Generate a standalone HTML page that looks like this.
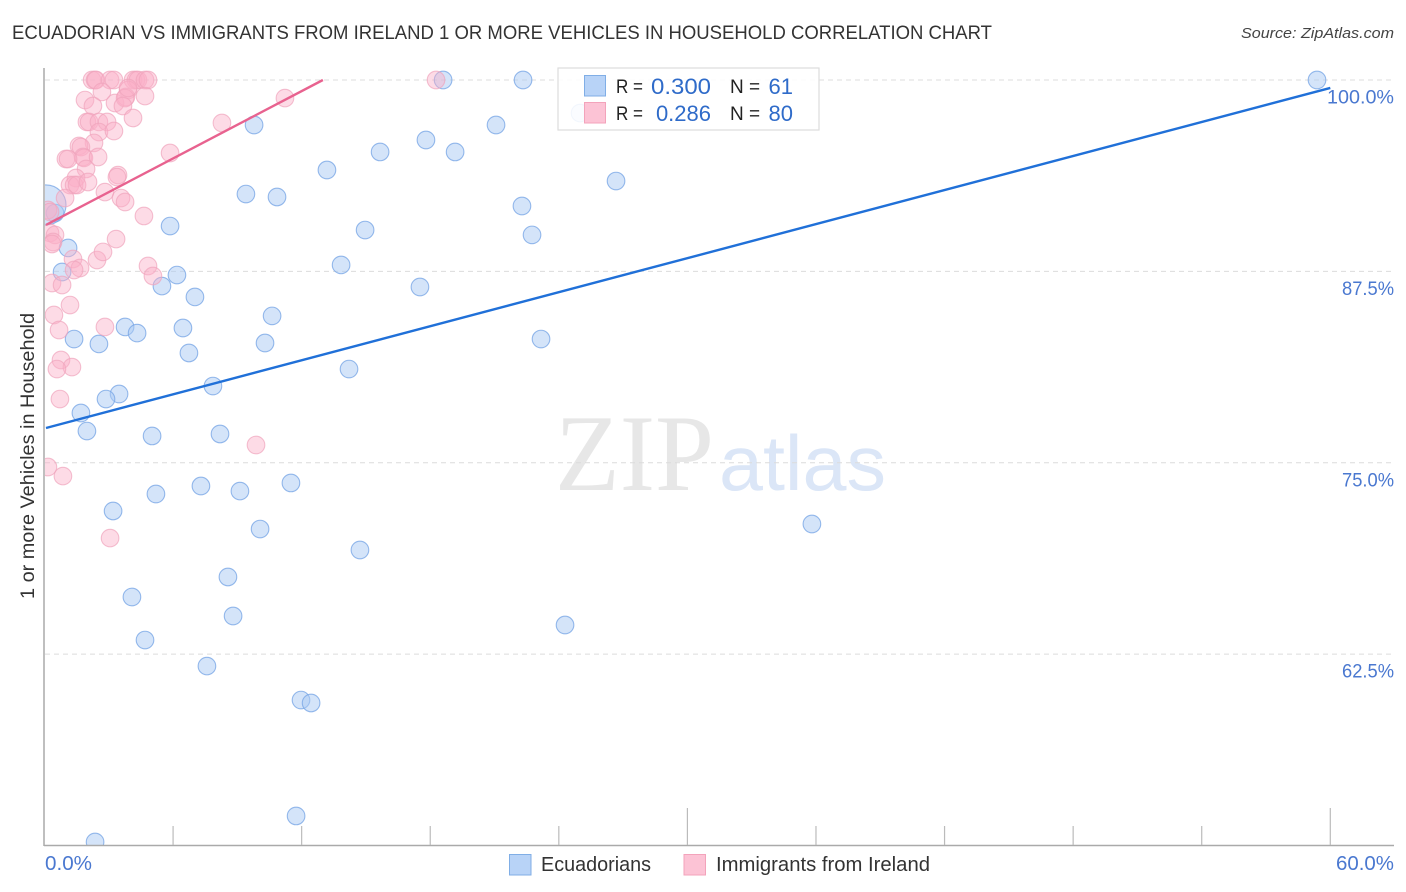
<!DOCTYPE html>
<html lang="en">
<head>
<meta charset="utf-8">
<title>Ecuadorian vs Immigrants from Ireland correlation chart</title>
<style>
html,body{margin:0;padding:0;background:#fff;width:1406px;height:892px;overflow:hidden}
svg{display:block;font-family:"Liberation Sans",sans-serif}
</style>
</head>
<body>
<svg id="chart" xmlns="http://www.w3.org/2000/svg" width="1406" height="892" viewBox="0 0 1406 892">
  <defs>
    <clipPath id="plot-clip"><rect x="45" y="68" width="1349" height="777"></rect></clipPath>
  </defs>
  <rect x="0" y="0" width="1406" height="892" fill="#fff"></rect>
  <text x="12" y="39" font-size="19" fill="#333" textLength="980" lengthAdjust="spacingAndGlyphs">ECUADORIAN VS IMMIGRANTS FROM IRELAND 1 OR MORE VEHICLES IN HOUSEHOLD CORRELATION CHART</text>
  <text x="1241" y="38" font-size="15" font-style="italic" fill="#444" textLength="153" lengthAdjust="spacingAndGlyphs">Source: ZipAtlas.com</text>
  <g>
    <text x="555" y="490" font-family="'Liberation Serif',serif" font-size="109" fill="#e7e7e7" textLength="159" lengthAdjust="spacingAndGlyphs">ZIP</text>
    <text x="719" y="490" font-size="78" fill="#dbe6f7" textLength="167" lengthAdjust="spacingAndGlyphs">atlas</text>
  </g>
  <g id="grid"></g>
  <g id="marks" clip-path="url(#plot-clip)"></g>
  <g id="axes"></g>
  <text transform="translate(34,456) rotate(-90)" font-size="19" fill="#333" text-anchor="middle" textLength="286" lengthAdjust="spacingAndGlyphs">1 or more Vehicles in Household</text>

  <g>
    <rect x="558" y="68" width="261" height="62" fill="#fff" fill-opacity="0.88" stroke="#ddd" stroke-width="1.2"></rect>
    <rect x="584.5" y="75.5" width="21" height="20.5" fill="#b8d3f7" stroke="#80aee6" stroke-width="1"></rect>
    <rect x="584.5" y="102.5" width="21" height="20.5" fill="#fcc3d5" stroke="#f3a3bb" stroke-width="1"></rect>
    <g font-size="19" fill="#222">
      <text x="616" y="93" textLength="27" lengthAdjust="spacingAndGlyphs">R =</text>
      <text x="730" y="93">N =</text>
      <text x="616" y="120" textLength="27" lengthAdjust="spacingAndGlyphs">R =</text>
      <text x="730" y="120">N =</text>
    </g>
    <g font-size="22" fill="#2f6bc9">
      <text x="651" y="94" textLength="60" lengthAdjust="spacingAndGlyphs">0.300</text>
      <text x="793" y="94" text-anchor="end">61</text>
      <text x="711" y="121" text-anchor="end">0.286</text>
      <text x="793" y="121" text-anchor="end">80</text>
    </g>
  </g>

  <g>
    <rect x="509.5" y="854.5" width="21.5" height="20.5" fill="#b8d3f7" stroke="#80aee6" stroke-width="1"></rect>
    <text x="541" y="871" font-size="20" fill="#333" textLength="110" lengthAdjust="spacingAndGlyphs">Ecuadorians</text>
    <rect x="684" y="854.5" width="21.5" height="20.5" fill="#fcc3d5" stroke="#f3a3bb" stroke-width="1"></rect>
    <text x="716" y="871" font-size="20" fill="#333" textLength="214" lengthAdjust="spacingAndGlyphs">Immigrants from Ireland</text>
  </g>
</svg>
<script>
const yTickValues = [100, 87.5, 75, 62.5];
const yTickLabels = ["100.0%", "87.5%", "75.0%", "62.5%"];
const xTickValues = [0, 6, 12, 18, 24, 30, 36, 42, 48, 54, 60];
const xEndLabels = ["0.0%", "60.0%"];

const ecuadoriansX = [59.38,18.60,22.33,24.99,9.78,21.07,17.80,13.18,15.66,19.16,26.67,9.40,10.85,22.28,5.86,14.96,22.75,1.10,13.84,0.82,6.18,5.48,17.52,7.02,10.62,3.76,6.46,4.32,1.38,2.54,10.29,23.17,6.74,14.21,7.86,3.48,2.87,1.70,1.98,5.02,8.19,5.20,7.30,9.12,11.50,3.20,10.06,14.72,35.81,8.56,4.08,8.80,24.29,4.69,7.58,11.97,12.44,11.74,2.36,0.49,0.07];
const ecuadoriansY = [100,100,100,97.84,97.06,97.06,96.08,94.12,95.30,95.30,93.40,92.55,92.36,91.77,90.46,90.20,89.88,89.03,87.92,87.46,87.26,86.54,86.48,85.83,84.59,83.87,83.80,83.47,83.08,82.76,82.82,83.08,82.17,81.12,80.01,79.49,79.16,78.25,77.07,76.75,76.88,72.96,73.48,73.15,73.68,71.85,70.67,69.30,71.00,67.54,66.23,64.99,64.40,63.42,61.72,59.50,59.31,51.93,50.23,91.31,91.84];

const irelandX = [2.22,2.36,2.40,3.06,3.24,4.13,4.27,4.36,4.69,4.83,18.27,2.68,3.90,1.89,2.26,3.29,3.80,3.76,3.66,4.69,4.13,1.98,2.08,2.54,2.92,2.54,3.24,2.31,1.61,1.70,1.80,1.84,1.00,1.10,2.50,1.94,3.43,3.38,1.47,1.19,1.38,1.52,2.03,0.96,2.82,3.57,3.76,4.64,5.86,8.28,11.22,0.16,0.26,0.26,0.49,0.40,0.35,1.33,1.66,1.38,2.45,2.73,3.34,4.83,5.06,0.35,0.82,1.19,0.44,0.68,2.82,0.77,1.28,0.58,0.72,0.16,0.86,9.87,3.06,3.90];
const irelandY = [100,100,100,100,100,100,100,100,100,100,100,99.22,99.35,98.69,98.30,98.50,98.89,98.82,98.30,98.95,97.52,97.26,97.26,97.26,97.26,96.60,96.67,95.89,95.69,95.62,94.97,94.91,94.84,94.84,94.97,94.19,93.79,93.66,93.60,93.14,93.14,93.14,93.34,92.29,92.68,92.29,92.03,91.12,95.23,97.19,98.82,91.51,91.38,90.01,89.88,89.42,89.29,88.31,87.72,87.59,88.24,88.77,89.61,87.85,87.20,86.74,86.61,85.30,84.65,83.67,83.87,81.71,81.25,81.12,79.16,74.72,74.13,76.16,70.08,99.48];

const ecuadoriansTrendX = [0.07, 60];
const ecuadoriansTrendY = [77.27, 99.48];
const irelandTrendX = [0.07, 12.99];
const irelandTrendY = [90.53, 100];

const NS = 'http://www.w3.org/2000/svg';
function xScale(v) { return 44.5 + v * 21.43; }
function yScale(v) { return 80 + (100 - v) * 15.31; }

function make(tag, attrs, parent) {
  const el = document.createElementNS(NS, tag);
  for (const k in attrs) el.setAttribute(k, attrs[k]);
  parent.appendChild(el);
  return el;
}

const grid = document.getElementById('grid');
const axes = document.getElementById('axes');
const marks = document.getElementById('marks');

yTickValues.forEach(function (v, i) {
  const line = make('line', {x1: 45, x2: 1394, y1: yScale(v), y2: yScale(v), stroke: '#dcdcdc', 'stroke-width': 1, 'stroke-dasharray': '5 4'}, grid);
  
  
  const label = make('text', {x: 1394, y: yScale(v) + 23.5, 'font-size': 19, fill: '#4a78d0', 'text-anchor': 'end', textLength: yTickLabels[i].length > 5 ? 67 : 52, lengthAdjust: 'spacingAndGlyphs'}, axes);
  
  
  label.textContent = yTickLabels[i];
});

const yAxis = make('line', {x1: 44, x2: 44, y1: 68, y2: 846, stroke: '#aaa', 'stroke-width': 1.5}, axes);


const xAxis = make('line', {x1: 44, x2: 1394, y1: 845.5, y2: 845.5, stroke: '#aaa', 'stroke-width': 1.5}, axes);



xTickValues.forEach(function (v, i) {
  if (i === 0) return;
  const tall = i % 5 === 0;
  const tick = make('line', {x1: xScale(v), x2: xScale(v), y1: tall ? 808 : 826, y2: 845, stroke: '#bbb', 'stroke-width': 1.2}, axes);
  
  
});

const xLabelLeft = make('text', {x: 45, y: 870, 'font-size': 20, fill: '#4a78d0', textLength: 47, lengthAdjust: 'spacingAndGlyphs'}, axes);


xLabelLeft.textContent = xEndLabels[0];
const xLabelRight = make('text', {x: 1336, y: 870, 'font-size': 20, fill: '#4a78d0', textLength: 58, lengthAdjust: 'spacingAndGlyphs'}, axes);


xLabelRight.textContent = xEndLabels[1];

const bigBubbleIndex = ecuadoriansX.length - 1;
ecuadoriansX.forEach(function (x, i) {
  const c = make('circle', {cx: xScale(x), cy: yScale(ecuadoriansY[i]), r: i === bigBubbleIndex ? 20 : 8.8, fill: '#a9c9f3', 'fill-opacity': 0.5, stroke: '#7aa8e6', 'stroke-opacity': 0.8, 'stroke-width': 1.1}, marks);
  
  
});

irelandX.forEach(function (x, i) {
  const c = make('circle', {cx: xScale(x), cy: yScale(irelandY[i]), r: 8.8, fill: '#fab0c8', 'fill-opacity': 0.45, stroke: '#f0a4bc', 'stroke-opacity': 0.7, 'stroke-width': 1.1}, marks);
  
  
});

const blueTrend = make('line', {x1: xScale(ecuadoriansTrendX[0]), y1: yScale(ecuadoriansTrendY[0]), x2: xScale(ecuadoriansTrendX[1]), y2: yScale(ecuadoriansTrendY[1]), stroke: '#2070d8', 'stroke-width': 2.4}, marks);


const pinkTrend = make('line', {x1: xScale(irelandTrendX[0]), y1: yScale(irelandTrendY[0]), x2: xScale(irelandTrendX[1]), y2: yScale(irelandTrendY[1]), stroke: '#e8628f', 'stroke-width': 2.4}, marks);


</script>
</body>
</html>
